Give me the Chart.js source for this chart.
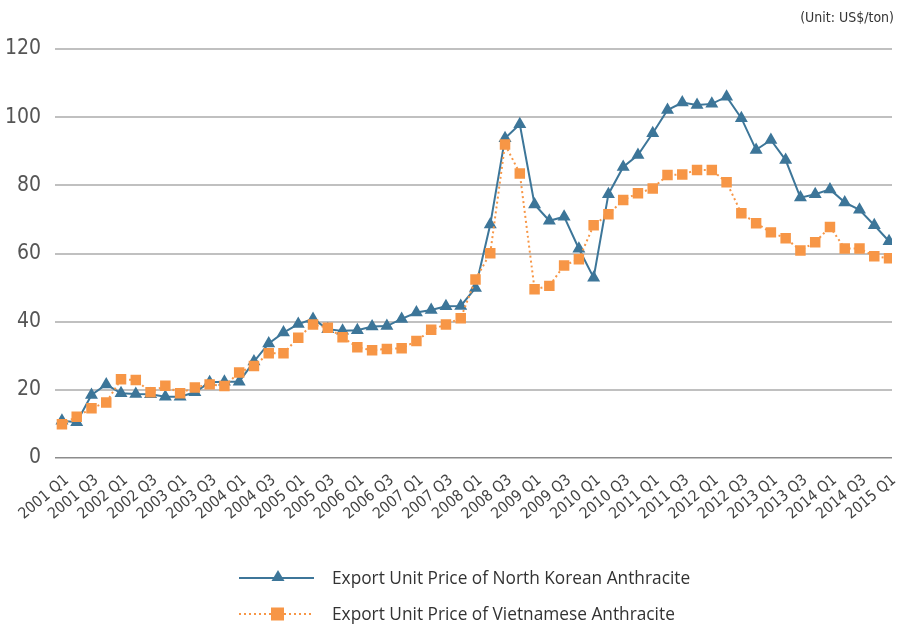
<!DOCTYPE html>
<html>
<head>
<meta charset="utf-8">
<script src="https://cdn.jsdelivr.net/npm/chart.js@4.4.1/dist/chart.umd.min.js"></script>
<style>
  body { margin: 0; background: #fff; }
  #wrap { position: relative; width: 900px; height: 625px; }
  #unit { position: absolute; right: 6px; top: 9px; font: 14px "DejaVu Sans Condensed", Roboto, sans-serif; color: #333; }
  .leg { position: absolute; left: 236px; height: 24px; display: flex; align-items: center; font: 17.3px "Open Sans", sans-serif; color: #333; }
  .leg svg { margin-right: 16px; }
</style>
</head>
<body>
<div id="wrap">
  <canvas id="myChart"></canvas>
  <div id="unit">(Unit: US$/ton)</div>
  <div class="leg" style="top:565px">
    <svg width="80" height="20"><line x1="3" y1="11" x2="78" y2="11" stroke="#3d7699" stroke-width="2"/><polygon points="42,3 48.5,14 35.5,14" fill="#3d7699"/></svg>
    <span>Export Unit Price of North Korean Anthracite</span>
  </div>
  <div class="leg" style="top:601px">
    <svg width="80" height="20"><line x1="3" y1="11" x2="78" y2="11" stroke="#f79646" stroke-width="2" stroke-dasharray="2,3"/><rect x="35" y="4.5" width="13" height="13" fill="#f79646"/></svg>
    <span>Export Unit Price of Vietnamese Anthracite</span>
  </div>
</div>
<script>
// quarters 2001 Q1 .. 2015 Q1
const quarters = [];
for (let y = 2001; y <= 2015; y++) {
    for (let q = 1; q <= 4; q++) {
        if (y === 2015 && q > 1) break;
        quarters.push(y + ' Q' + q);
    }
}

const nkPrice = [10.9, 10.5, 18.5, 21.6, 19.0, 18.8, 18.7, 18.0, 18.0, 19.3, 22.2, 22.4, 22.4, 28.3, 33.6, 36.8,
    39.3, 40.8, 37.8, 37.3, 37.5, 38.6, 38.7, 40.8, 42.7, 43.4, 44.5, 44.6,
    49.9, 68.5, 93.8, 97.9, 74.4, 69.6, 70.8, 61.4, 52.9,
    77.4, 85.4, 88.9, 95.3, 102.1, 104.3, 103.6, 103.9, 106.0, 99.7, 90.4, 93.3, 87.4, 76.4, 77.4, 78.8, 75.0, 72.8, 68.3, 63.6];
const vnPrice = [9.9, 12.1, 14.6, 16.3, 23.1, 22.9, 19.3, 21.2, 19.0, 20.7, 21.6, 21.1, 25.1, 27.0, 30.7, 30.7,
    35.3, 39.2, 38.2, 35.4, 32.5, 31.6, 32.0, 32.2, 34.3, 37.6, 39.2, 41.0,
    52.4, 60.1, 92.0, 83.5, 49.5, 50.5, 56.5, 58.3, 68.3,
    71.5, 75.7, 77.7, 79.1, 83.0, 83.2, 84.5, 84.5, 80.9, 71.8, 68.9, 66.2, 64.5, 60.9, 63.3, 67.8, 61.5, 61.5, 59.2, 58.6];
const yTicks = [0, 20, 40, 60, 80, 100, 120];

const toPoints = arr => arr.map((v, i) => ({ x: i, y: v }));
const tickFont = "'DejaVu Sans Condensed', Roboto, sans-serif";

new Chart("myChart", {
    type: "line",
    data: {
        datasets: [{
            label: "Export Unit Price of Vietnamese Anthracite",
            data: toPoints(vnPrice),
            borderColor: "#f79646",
            backgroundColor: "#f79646",
            borderWidth: 2,
            borderDash: [2, 3],
            pointStyle: "rect",
            pointRadius: 6,
            pointHoverRadius: 6,
            order: 0
        }, {
            label: "Export Unit Price of North Korean Anthracite",
            data: toPoints(nkPrice),
            borderColor: "#3d7699",
            backgroundColor: "#3d7699",
            borderWidth: 2,
            pointStyle: "triangle",
            pointRadius: 5.5,
            pointHoverRadius: 5.5,
            order: 1
        }]
    },
    options: {
        responsive: true,
        maintainAspectRatio: false,
        animation: false,
        layout: { padding: { left: 0, right: 7, top: 49, bottom: 100 } },
        plugins: { legend: { display: false }, tooltip: { enabled: false } },
        elements: { line: { tension: 0 } },
        scales: {
            x: {
                type: "linear",
                min: -0.47,
                max: 56.2,
                grid: { display: false },
                border: { display: false },
                afterFit: s => { s.height = 67; s.paddingLeft = 0; s.paddingRight = 0; },
                ticks: {
                    stepSize: 2,
                    includeBounds: false,
                    autoSkip: false,
                    maxTicksLimit: 100,
                    minRotation: 40,
                    maxRotation: 40,
                    padding: 5,
                    labelOffset: 5,
                    color: "#444",
                    font: { family: tickFont, size: 15.5 },
                    callback: v => quarters[v]
                }
            },
            y: {
                min: 0,
                max: 120,
                afterFit: s => { s.width = 55; },
                afterBuildTicks: s => { s.ticks = yTicks.map(v => ({ value: v })); },
                border: { display: false },
                grid: {
                    drawTicks: false,
                    color: c => c.tick.value === 0 ? "#8c8c8c" : "#c0c0c0",
                    lineWidth: c => c.tick.value === 0 ? 1.5 : 2
                },
                ticks: {
                    padding: 14,
                    color: "#555",
                    font: { family: tickFont, size: 21 }
                }
            }
        }
    }
});
</script>
</body>
</html>
